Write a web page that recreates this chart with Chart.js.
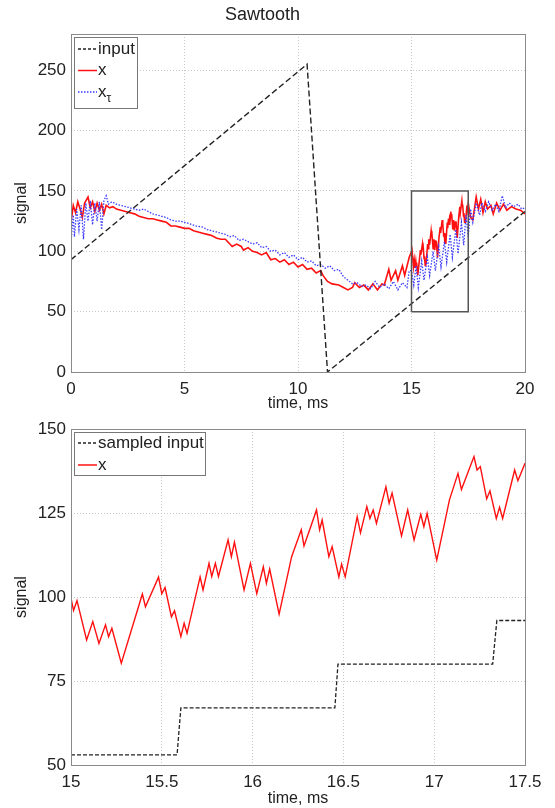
<!DOCTYPE html>
<html>
<head>
<meta charset="utf-8">
<script src="https://cdn.jsdelivr.net/npm/chart.js@4.4.1/dist/chart.umd.min.js"></script>
<style>
  html, body { margin: 0; padding: 0; background: #fff; }
  canvas { display: block; }
</style>
</head>
<body>
<canvas id="topChart" width="555" height="413"></canvas>
<canvas id="bottomChart" width="555" height="395"></canvas>
<script>
// sawtooth input, top panel
const inputT = [0, 10.4, 11.3, 20];
const inputV = [93, 255, 0, 133];

// x (red) before and after the zoomed window
const xHeadT = [0, 0.1, 0.2, 0.3, 0.4, 0.5, 0.6, 0.75, 0.85, 0.95, 1.05, 1.15, 1.25, 1.35, 1.45, 1.55, 1.7, 1.85, 2.0,
  2.2, 2.4, 2.6, 2.8, 3.0, 3.2, 3.4, 3.6, 3.8, 4.0, 4.2, 4.4, 4.6, 4.8, 5.0, 5.2, 5.4, 5.6, 5.8, 6.0, 6.2, 6.4, 6.6, 6.8,
  7.0, 7.1, 7.3, 7.5, 7.6, 7.8, 8.0, 8.2, 8.4, 8.6, 8.8, 9.0, 9.2, 9.4, 9.6, 9.8, 10.0, 10.2, 10.4, 10.6, 10.8, 11.0,
  11.1, 11.3, 11.5, 11.8, 12.0, 12.2, 12.4, 12.5, 12.7, 12.9, 13.1, 13.3, 13.5, 13.7, 13.8, 14.0, 14.1, 14.3, 14.4,
  14.6, 14.7, 14.9];
const xHeadV = [124, 138, 132, 141, 135, 128, 140, 145, 136, 141, 133, 140, 134, 139, 131, 138, 136, 137, 135,
  134, 133, 132, 131, 129, 128, 127, 127, 126, 125, 124, 121, 121, 120, 119, 119, 117, 116, 115, 114, 113, 111, 110, 110,
  106, 104, 106, 104, 101, 103, 100, 99, 97, 99, 93, 94, 91, 93, 89, 91, 87, 89, 85, 86, 82, 84,
  80, 75, 73, 72, 70, 68, 70, 74, 70, 72, 68, 73, 68, 73, 72, 85, 76, 84, 76,
  88, 80, 95];
const xTailT = [17.6, 17.7, 17.85, 17.95, 18.05, 18.15, 18.25, 18.35, 18.5, 18.6, 18.75, 18.9, 19.05, 19.2, 19.4, 19.6, 19.8, 20.0];
const xTailV = [128, 126, 145, 135, 143, 132, 141, 135, 138, 131, 140, 134, 139, 134, 137, 135, 134, 131];

// x_tau (blue dotted), top panel
const xTauT = [0, 0.05, 0.1, 0.15, 0.25, 0.35, 0.45, 0.55, 0.65, 0.75, 0.85, 0.95, 1.05, 1.15, 1.25, 1.35, 1.45, 1.55, 1.65, 1.8,
  2.0, 2.2, 2.4, 2.6, 2.8, 3.0, 3.2, 3.4, 3.6, 3.8, 4.0, 4.2, 4.4, 4.6, 4.8, 5.0, 5.2, 5.5, 5.8, 6.0, 6.2, 6.4, 6.6, 6.8,
  7.0, 7.2, 7.4, 7.6, 7.8, 8.0, 8.2, 8.4, 8.6, 8.8, 9.0, 9.2, 9.4, 9.6, 9.8, 10.0, 10.2, 10.4, 10.6, 10.8, 11.0, 11.2,
  11.4, 11.6, 11.8, 12.0, 12.2, 12.4, 12.6, 12.8, 13.0, 13.2, 13.4, 13.6, 13.8, 14.0, 14.2, 14.4, 14.6, 14.8, 14.9,
  15.0, 15.1, 15.2, 15.3, 15.45, 15.55, 15.7, 15.8, 15.95, 16.05, 16.2, 16.3, 16.45, 16.55, 16.7, 16.8, 16.95, 17.05,
  17.2, 17.3, 17.4, 17.5, 17.6, 17.7, 17.85, 18.0, 18.1, 18.25, 18.4, 18.55, 18.7, 18.85, 19.0, 19.15, 19.3, 19.5,
  19.7, 19.85, 20.0];
const xTauV = [106, 120, 130, 112, 135, 118, 138, 110, 140, 125, 142, 122, 140, 125, 141, 118, 142, 146, 139, 141,
  139, 138, 137, 136, 135, 134, 135, 133, 131, 130, 129, 128, 126, 125, 125, 124, 123, 121, 120, 118, 117, 116, 115, 114,
  112, 113, 109, 110, 108, 106, 107, 103, 104, 100, 101, 97, 99, 95, 97, 93, 95, 91, 92, 88, 89, 86,
  88, 84, 85, 79, 76, 73, 74, 71, 72, 69, 75, 70, 73, 69, 75, 68, 74, 70, 84,
  84, 72, 88, 70, 92, 76, 95, 80, 100, 84, 104, 87, 108, 91, 114, 95, 118, 98,
  124, 105, 130, 112, 135, 124, 140, 130, 140, 133, 141, 134, 139, 133, 146, 136, 140, 137,
  139, 135, 136];

// x (red), zoomed window 15 - 17.5 ms
const zoomT = [15, 15.014, 15.033, 15.086, 15.12, 15.154, 15.19, 15.207, 15.225, 15.277, 15.393, 15.41, 15.482, 15.5,
  15.518, 15.553, 15.57, 15.605, 15.623, 15.639, 15.711, 15.727, 15.76, 15.775, 15.795, 15.812, 15.865, 15.883, 15.9,
  15.953, 15.988, 16.023, 16.059, 16.076, 16.094, 16.146, 16.215, 16.268, 16.283, 16.32, 16.352, 16.369, 16.383,
  16.42, 16.438, 16.475, 16.49, 16.51, 16.576, 16.594, 16.629, 16.646, 16.664, 16.682, 16.734, 16.752, 16.768,
  16.82, 16.854, 16.889, 16.926, 16.943, 16.961, 17.014, 17.084, 17.131, 17.15, 17.219, 17.236, 17.254, 17.289,
  17.307, 17.342, 17.36, 17.377, 17.443, 17.461, 17.5];
const zoomV = [99.6, 96, 98.9, 87.2, 92.7, 86.2, 91.7, 88.2, 90.7, 80.3, 100.9, 97.1, 105.9, 101,
  102.8, 94.1, 95.9, 88.2, 92.2, 89.2, 106, 102.1, 110, 106.1, 110, 106.1, 117, 112, 116.3,
  102.1, 110, 101, 109, 104.1, 108.3, 94.9, 112, 120, 115.2, 120.9, 125.9, 120, 122.9,
  112, 115, 106, 109.8, 106, 123.9, 119.1, 126.9, 123.4, 125.9, 121.9, 132.8, 127.9, 130.9,
  118.2, 125.9, 117, 124.6, 120.9, 124.9, 111, 128.9, 136.8, 132, 141.8, 137.8, 138.8, 129.2,
  131.6, 123.4, 126.7, 123.4, 137.8, 134.6, 139.8];

// sampled input, zoomed window
const sampledT = [15, 15.584, 15.605, 16.453, 16.47, 17.322, 17.345, 17.5];
const sampledV = [53, 53, 67, 67, 80, 80, 93, 93];

// zoom box drawn on the top panel
const boxT = [15, 15, 17.5, 17.5, 15];
const boxV = [50, 150, 150, 50, 50];

const topXTicks = [0, 5, 10, 15, 20];
const topYTicks = [0, 50, 100, 150, 200, 250];
const bottomXTicks = [15, 15.5, 16, 16.5, 17, 17.5];
const bottomYTicks = [50, 75, 100, 125, 150];

const FONT = "'Liberation Sans', Arial, sans-serif";
const pts = (t, v) => t.map((x, i) => ({ x: x, y: v[i] }));

// draws full plot box and a MATLAB style legend
const framePlugin = {
  id: 'frame',
  afterDatasetsDraw(chart, args, opts) {
    const { ctx, chartArea: a } = chart;
    ctx.save();
    ctx.strokeStyle = '#8a8a8a';
    ctx.lineWidth = 1;
    ctx.setLineDash([]);
    ctx.strokeRect(a.left + 0.5, a.top + 0.5, a.right - a.left, a.bottom - a.top);

    const L = opts.legend;
    const x0 = a.left + 3, y0 = a.top + 3;
    ctx.fillStyle = '#fff';
    ctx.fillRect(x0, y0, L.w, L.h);
    ctx.strokeStyle = '#777';
    ctx.strokeRect(x0 + 0.5, y0 + 0.5, L.w, L.h);
    ctx.textBaseline = 'middle';
    L.items.forEach((it, i) => {
      const y = y0 + L.first + i * L.step;
      ctx.strokeStyle = it.color;
      ctx.lineWidth = it.width;
      ctx.setLineDash(it.dash);
      ctx.beginPath();
      ctx.moveTo(x0 + 4, y);
      ctx.lineTo(x0 + 23, y);
      ctx.stroke();
      ctx.fillStyle = '#222';
      ctx.font = '17px ' + FONT;
      ctx.fillText(it.text, x0 + 24, y);
      if (it.sub) {
        const w = ctx.measureText(it.text).width;
        ctx.font = '12px ' + FONT;
        ctx.fillText(it.sub, x0 + 24 + w, y + 7);
      }
    });
    ctx.restore();
  }
};

function axes(xMin, xMax, xTicks, yMin, yMax, yTicks, xHeight, xTitlePad) {
  const grid = { color: '#c8c8c8', drawTicks: false };
  const border = { display: false, dash: [1, 2] };
  const tickFont = { family: FONT, size: 17 };
  return {
    x: {
      type: 'linear', min: xMin, max: xMax,
      afterBuildTicks: s => { s.ticks = xTicks.map(v => ({ value: v })); },
      afterFit: s => { s.height = xHeight; },
      grid: grid, border: border,
      ticks: { font: tickFont, color: '#222', padding: 7, maxRotation: 0, callback: v => String(v) },
      title: { display: true, text: 'time, ms', font: { family: FONT, size: 16 }, color: '#222', padding: { top: xTitlePad, bottom: 0 } }
    },
    y: {
      type: 'linear', min: yMin, max: yMax,
      afterBuildTicks: s => { s.ticks = yTicks.map(v => ({ value: v })); },
      afterFit: s => { s.width = 71; },
      grid: grid, border: border,
      ticks: { font: tickFont, color: '#222', padding: 5, callback: v => String(v) },
      title: { display: true, text: 'signal', font: { family: FONT, size: 16 }, color: '#222', padding: { top: 12, bottom: 0 } }
    }
  };
}

new Chart(document.getElementById('topChart'), {
  type: 'line',
  data: {
    datasets: [
      { data: pts(boxT, boxV), borderColor: '#555', borderWidth: 1.5 },
      { data: pts(inputT, inputV), borderColor: '#222', borderWidth: 1.4, borderDash: [6, 3] },
      { data: pts(xTauT, xTauV), borderColor: '#3a3aff', borderWidth: 1.3, borderDash: [1.5, 1.5] },
      { data: pts(xHeadT.concat(zoomT, xTailT), xHeadV.concat(zoomV, xTailV)), borderColor: '#ff1010', borderWidth: 1.6 }
    ]
  },
  options: {
    responsive: false, animation: false,
    layout: { padding: { right: 30, top: 0 } },
    elements: { point: { radius: 0 }, line: { tension: 0 } },
    scales: axes(0, 20, topXTicks, 0, 280, topYTicks, 41, 8),
    plugins: {
      legend: { display: false }, tooltip: { enabled: false },
      title: { display: true, text: 'Sawtooth', font: { family: FONT, size: 18, weight: 'normal' }, color: '#222', padding: { top: 4, bottom: 8.4 } },
      frame: { legend: { w: 63, h: 71, first: 12, step: 21.5, items: [
        { text: 'input', color: '#222', width: 1.3, dash: [3, 2] },
        { text: 'x', color: '#ff1010', width: 1.5, dash: [] },
        { text: 'x', sub: 'τ', color: '#3a3aff', width: 1.3, dash: [1.5, 1.5] }
      ] } }
    }
  },
  plugins: [framePlugin]
});

new Chart(document.getElementById('bottomChart'), {
  type: 'line',
  data: {
    datasets: [
      { data: pts(sampledT, sampledV), borderColor: '#222', borderWidth: 1.3, borderDash: [4, 2] },
      { data: pts(zoomT, zoomV), borderColor: '#ff1010', borderWidth: 1.4 }
    ]
  },
  options: {
    responsive: false, animation: false,
    layout: { padding: { right: 30, top: 16 } },
    elements: { point: { radius: 0 }, line: { tension: 0 } },
    scales: axes(15, 17.5, bottomXTicks, 50, 150, bottomYTicks, 43, 0),
    plugins: {
      legend: { display: false }, tooltip: { enabled: false },
      frame: { legend: { w: 131, h: 43, first: 11, step: 22, items: [
        { text: 'sampled input', color: '#222', width: 1.3, dash: [3, 2] },
        { text: 'x', color: '#ff1010', width: 1.5, dash: [] }
      ] } }
    }
  },
  plugins: [framePlugin]
});
</script>
</body>
</html>
